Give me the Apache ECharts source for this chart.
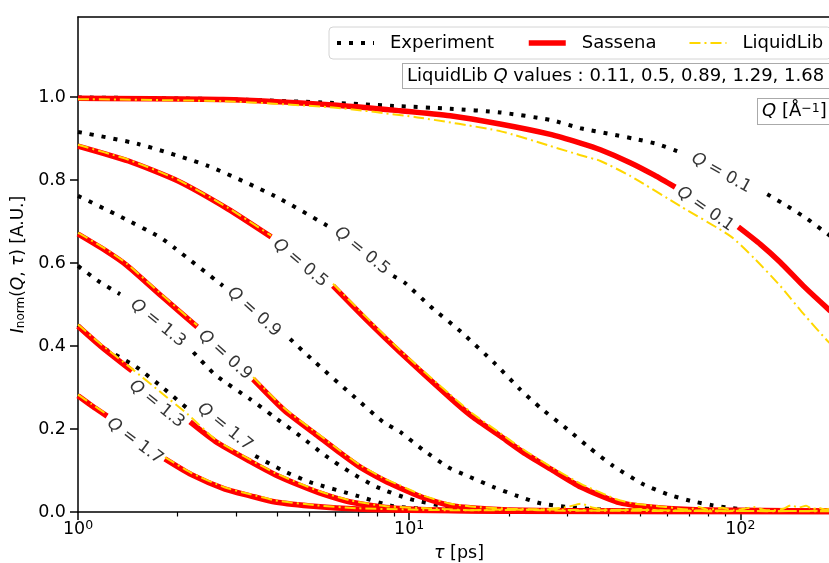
<!DOCTYPE html>
<html><head><meta charset="utf-8">
<script src="https://cdn.jsdelivr.net/npm/echarts@6/dist/echarts.min.js"></script>
<style>html,body{margin:0;padding:0;background:#fff}#c{width:829px;height:563px}</style>
</head><body><div id="c"></div>
<script>
const FONT = '"DejaVu Sans", sans-serif';
const GAP = null;

// ---- data: [tau (ps), I_norm] ; GAP = break in line where the contour-style label sits
const expQ01 = [[1,0.999],[2.74,0.995],[5.9,0.986],[9.4,0.978],[13.3,0.972],[18.8,0.963],[26.7,0.945],[32.9,0.925],[40.5,0.911],[47.5,0.9],[56.1,0.887],[65.9,0.867],GAP,[120.6,0.766],[138.7,0.737],[159.5,0.706],[183.4,0.67],[200,0.648]];
const expQ05 = [[1,0.916],[1.52,0.887],[2.47,0.834],[3.94,0.761],[5.69,0.689],GAP,[8.95,0.569],[9.72,0.552],[11.57,0.496],[14.26,0.436],[18.2,0.357],[21.6,0.296],[25,0.25],[30,0.2],[35,0.155],[41.3,0.111],[50.9,0.067],[60.2,0.043],[70.6,0.027],[82.8,0.016],[95,0.009],[110,0.005],[140,0.003],[200,0.002]];
const expQ09 = [[1,0.762],[1.35,0.711],[1.77,0.662],[1.96,0.636],[2.74,0.545],GAP,[4.37,0.417],[5.2,0.361],[6.77,0.28],[8.35,0.217],[9.39,0.193],[11,0.15],[13.1,0.108],[15,0.087],[18,0.06],[21,0.04],[24.9,0.021],[30,0.012],[40,0.005],[60,0.002],[200,0.001]];
const expQ13 = [[1,0.593],[1.16,0.555],[1.34,0.525],GAP,[2.23,0.385],[2.6,0.33],[3.31,0.272],[3.9,0.23],[4.69,0.183],[5.6,0.135],[6.64,0.096],[8,0.06],[10.07,0.031],[13.3,0.012],[18,0.005],[30,0.002],[200,0.001]];
const expQ17 = [[1,0.45],[1.17,0.4],[1.486,0.352],[1.8,0.3],[2.15,0.248],GAP,[3.43,0.135],[4.2,0.098],[5.02,0.072],[6.97,0.039],[8.95,0.014],[12,0.006],[20,0.002],[200,0.001]];

const simQ01 = [[1,0.997],[2.74,0.994],[5.9,0.981],[9.4,0.967],[13.3,0.955],[18.8,0.935],[26.7,0.91],[32.9,0.889],[37.8,0.873],[46.5,0.842],[55,0.812],[63.6,0.783],GAP,[98.6,0.687],[115,0.645],[132,0.602],[155,0.545],[184.5,0.489],[200,0.465]];
const simQ05 = [[1,0.882],[1.42,0.846],[2.0,0.798],[2.84,0.73],[3.83,0.663],GAP,[5.89,0.545],[7.5,0.46],[9.39,0.385],[13.3,0.275],[15.5,0.23],[18.84,0.183],[22,0.145],[26.7,0.104],[33,0.06],[42.5,0.024],[53.5,0.012],[70,0.006],[100,0.004],[200,0.002]];
const simQ09 = [[1,0.67],[1.2,0.632],[1.406,0.594],[1.79,0.52],[2.29,0.446],GAP,[3.38,0.32],[4.2,0.245],[5.27,0.185],[6.2,0.142],[7.11,0.108],[8.35,0.077],[9.39,0.058],[11,0.035],[13.3,0.016],[16,0.009],[20,0.005],[30,0.003],[200,0.001]];
const simQ13 = [[1,0.448],[1.17,0.4],[1.456,0.34],GAP,[2.18,0.217],[2.6,0.17],[3.31,0.122],[3.94,0.09],[4.69,0.064],[5.5,0.043],[6.64,0.024],[8.5,0.011],[12,0.005],[20,0.002],[200,0.001]];
const simQ17 = [[1,0.28],[1.1,0.256],[1.224,0.231],GAP,[1.83,0.128],[2.2,0.09],[2.78,0.055],[3.31,0.039],[3.94,0.024],[5.27,0.013],[7,0.007],[10,0.004],[20,0.002],[200,0.001]];

const llQ01 = [[1,0.995],[2.74,0.99],[5.9,0.975],[10.6,0.951],[18.8,0.918],[26.7,0.882],[32.9,0.86],[37.8,0.846],[46.5,0.81],[65.9,0.737],[93.3,0.665],[110,0.612],[132,0.545],[155,0.478],[184.5,0.41],[200,0.385]];
const llQ05 = [[1,0.885],[1.42,0.849],[2.0,0.801],[2.84,0.733],[3.83,0.666],GAP,[5.89,0.55],[7.5,0.466],[9.39,0.39],[13.3,0.283],[15.5,0.238],[18.84,0.19],[22,0.152],[26.7,0.11],[33,0.068],[42.5,0.03],[48,0.02],[53.5,0.016],[60,0.012],[65,0.008],[70,0.006],[75,0.012],[80,0.005],[88,0.01],[95,0.004],[103,0.008],[110,0.012],[118,0.005],[126,0.004],[135,0.008],[142,0.016],[150,0.011],[158,0.015],[165,0.007],[172,0.01],[180,0.006],[190,0.009],[200,0.005]];
const llQ09 = [[1,0.673],[1.2,0.636],[1.406,0.598],[1.79,0.524],[2.29,0.45],GAP,[3.38,0.325],[4.2,0.25],[5.27,0.19],[6.2,0.147],[7.11,0.113],[8.35,0.082],[9.39,0.064],[11,0.04],[13.3,0.02],[16,0.012],[20,0.008],[25,0.006],[30,0.012],[33,0.02],[36,0.01],[42,0.005],[50,0.007],[60,0.003],[80,0.004],[120,0.002],[200,0.003]];
const llQ13 = [[1,0.452],[1.17,0.405],[1.456,0.345],[1.8,0.285],[2.15,0.235],[2.6,0.175],[3.31,0.126],[3.94,0.094],[4.69,0.068],[5.5,0.047],[6.64,0.028],[8.5,0.014],[12,0.008],[16,0.004],[25,0.006],[40,0.003],[200,0.002]];
const llQ17 = [[1,0.283],[1.1,0.26],[1.224,0.235],GAP,[1.83,0.132],[2.2,0.094],[2.78,0.059],[3.31,0.043],[3.94,0.028],[5.27,0.016],[7,0.009],[10,0.006],[14,0.004],[20,0.006],[30,0.003],[50,0.005],[80,0.002],[200,0.003]];

const qValues = ['0.1','0.5','0.9','1.3','1.7'];
const expLabelAt = [[87.6,0.817],[7.2,0.629],[3.4,0.482],[1.745,0.455],[2.78,0.205]];
const simLabelAt = [[78.4,0.730],[4.69,0.600],[2.78,0.378],[1.73,0.260],[1.486,0.171]];

const yTicks = [0,0.2,0.4,0.6,0.8,1.0];
const minorTau = [2,3,4,5,6,7,8,9,20,30,40,50,60,70,80,90];
const liquidLibQ = '0.11, 0.5, 0.89, 1.29, 1.68';

// ---- styles
const expRot = [-29,-39,-42,-39,-39];
const simRot = [-35,-40,-42,-39,-37];
const toData = arr => arr.map(p => p === null ? ['-','-'] : p);

function line(name, data, color, ls, z){
  return {type:'line', name, data: toData(data), xAxisIndex:0, yAxisIndex:0,
    symbol:'none', showSymbol:false, smooth:0.2, connectNulls:false,
    lineStyle:Object.assign({color}, ls), itemStyle:{color}, z, silent:true, animation:false};
}
const expStyle = {width:4, type:[4,8], cap:'butt'};
const simStyle = {width:5.5, type:'solid', cap:'butt', join:'round'};
const llStyle = {width:2, type:[11,4,2,4], cap:'butt'};

const series = [];
[expQ01,expQ05,expQ09,expQ13,expQ17].forEach(d=>series.push(line('Experiment', d, '#000000', expStyle, 2)));
[simQ01,simQ05,simQ09,simQ13,simQ17].forEach(d=>series.push(line('Sassena', d, '#ff0000', simStyle, 3)));
[llQ01,llQ05,llQ09,llQ13,llQ17].forEach(d=>series.push(line('LiquidLib', d, '#ffd700', llStyle, 4)));

const labelItems = [];
qValues.forEach((q,i)=>{
  labelItems.push({name:q, value:expLabelAt[i], label:{rotate:expRot[i]}});
  labelItems.push({name:q, value:simLabelAt[i], label:{rotate:simRot[i]}});
});
series.push({type:'scatter', name:'labels', data:labelItems, xAxisIndex:0, yAxisIndex:0,
  symbolSize:1, itemStyle:{color:'rgba(0,0,0,0)'}, z:6, silent:true, animation:false,
  label:{show:true, position:'inside', formatter:'{i|Q} = {b}', color:'#000', fontSize:17, fontFamily:FONT,
    rich:{i:{fontStyle:'italic', fontSize:17, fontFamily:FONT, color:'#000'}}}});

const gridBox = {left:78, top:17, right:-11, bottom:51, containLabel:false, outerBoundsMode:'none'};
const chart = echarts.init(document.getElementById('c'));
chart.setOption({
  animation:false,
  backgroundColor:'#fff',
  grid:[Object.assign({}, gridBox), Object.assign({}, gridBox)],
  xAxis:[
    {type:'log', logBase:10, min:1, max:200, gridIndex:0, position:'bottom',
      axisLine:{show:true, onZero:false, lineStyle:{color:'#000', width:1.5}},
      axisTick:{show:true, length:8, lineStyle:{color:'#000', width:1.5}},
      splitLine:{show:false}, minorTick:{show:false},
      axisLabel:{color:'#000', fontFamily:FONT, fontSize:17.5, margin:7,
        formatter:v=>{const e=Math.round(Math.log10(v)); return Math.abs(Math.pow(10,e)-v)<1e-6 ? '10{s|'+e+'}' : '';},
        rich:{s:{fontSize:12.5, fontFamily:FONT, color:'#000', verticalAlign:'top', padding:[0,0,8,0]}}},
      name:'{i|τ} [ps]', nameLocation:'middle', nameGap:32,
      nameTextStyle:{color:'#000', fontSize:17.5, fontFamily:FONT, rich:{i:{fontStyle:'italic', fontSize:17.5, fontFamily:FONT, color:'#000'}}}},
    {type:'value', min:0, max:1, gridIndex:0, position:'top',
      axisLine:{show:true, onZero:false, lineStyle:{color:'#000', width:1.5}},
      axisTick:{show:false}, axisLabel:{show:false}, splitLine:{show:false}},
    {type:'value', min:0, max:Math.log10(200), gridIndex:1, position:'bottom',
      axisLine:{show:false, onZero:false}, axisLabel:{show:false}, splitLine:{show:false},
      axisTick:{show:true, length:4.5, customValues:minorTau.map(Math.log10), lineStyle:{color:'#000', width:1.2}}}
  ],
  yAxis:[
    {type:'value', min:0, max:1.193, interval:0.2, gridIndex:0,
      axisLine:{show:true, onZero:false, lineStyle:{color:'#000', width:1.5}},
      axisTick:{show:true, length:8, customValues:yTicks, lineStyle:{color:'#000', width:1.5}},
      axisLabel:{customValues:yTicks, formatter:v=>v.toFixed(1), color:'#000', fontFamily:FONT, fontSize:17.5, margin:12},
      splitLine:{show:false},
      name:'{i|I}{s|norm}({i|Q}, {i|τ}) [A.U.]', nameLocation:'middle', nameGap:45, nameRotate:90,
      nameTextStyle:{color:'#000', fontSize:17, fontFamily:FONT,
        rich:{i:{fontStyle:'italic', fontSize:17, fontFamily:FONT, color:'#000'},
              s:{fontSize:12, fontFamily:FONT, color:'#000', verticalAlign:'bottom', padding:[6,0,0,0]}}}},
    {type:'value', min:0, max:1, gridIndex:1, show:false}
  ],
  legend:{data:['Experiment','Sassena','LiquidLib'], left:329, top:27, width:560,
    itemWidth:37, itemHeight:14, itemGap:32, padding:[7,8,7,6], selectedMode:false,
    backgroundColor:'#fff', borderColor:'#d4d4d4', borderWidth:1, borderRadius:4,
    itemStyle:{color:'rgba(0,0,0,0)', borderWidth:0, opacity:0},
    lineStyle:{width:'inherit', type:'inherit'},
    textStyle:{fontSize:18, fontFamily:FONT, color:'#000', padding:[0,0,0,11]}},
  graphic:[
    {type:'text', left:402, top:63, z:100,
      style:{text:'LiquidLib {i|Q} values : ' + liquidLibQ, font:'18px "DejaVu Sans"', fill:'#000',
        rich:{i:{fontStyle:'italic', fontSize:18, fontFamily:FONT, fill:'#000'}},
        backgroundColor:'#fff', borderColor:'#aaaaaa', borderWidth:1, padding:[3,30,3,4]}},
    {type:'text', left:757, top:98, z:100,
      style:{text:'{i|Q} [Å{s|−1}]', font:'18px "DejaVu Sans"', fill:'#000',
        rich:{i:{fontStyle:'italic', fontSize:18, fontFamily:FONT, fill:'#000'},
              s:{fontSize:12.5, fontFamily:FONT, fill:'#000', verticalAlign:'top', padding:[0,0,6,0]}},
        backgroundColor:'#fff', borderColor:'#aaaaaa', borderWidth:1, padding:[3,30,3,4]}}
  ],
  series
});
</script></body></html>
